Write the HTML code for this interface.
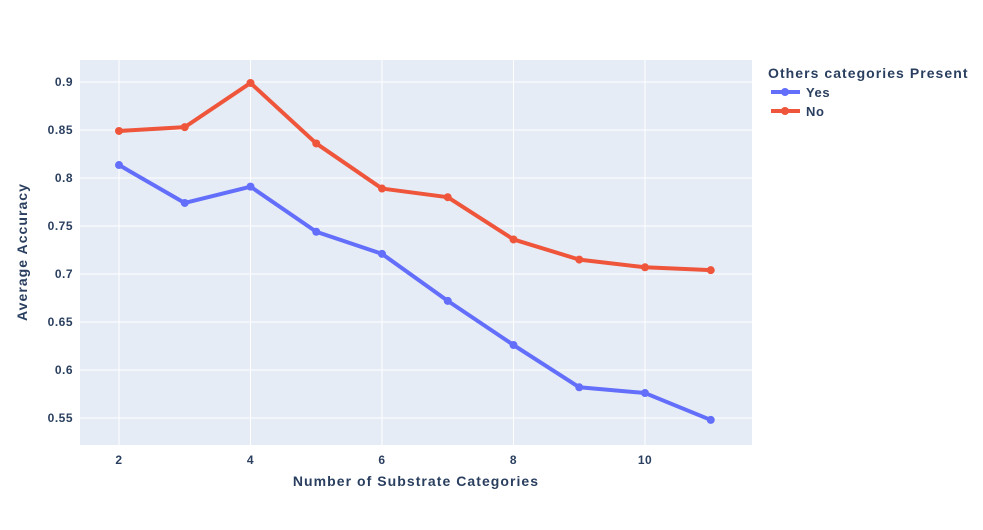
<!DOCTYPE html>
<html><head><meta charset="utf-8"><style>
body{margin:0;background:#fff;font-family:"Liberation Sans",Arial,sans-serif;}
svg text{font-family:"Liberation Sans",Arial,sans-serif;font-weight:bold;fill:#2a3f5f;}
</style></head><body>
<svg id="chart" width="983" height="525">
<rect x="80" y="60" width="672" height="385" fill="#e5ecf6"/>
<g id="grid"></g><g id="series"></g><g id="ticks"></g>
<text x="416" y="486" text-anchor="middle" font-size="14" letter-spacing="1.05">Number of Substrate Categories</text>
<text transform="translate(27,252) rotate(-90)" text-anchor="middle" font-size="14" letter-spacing="1.05">Average Accuracy</text>
<text x="768" y="78" font-size="14" letter-spacing="1.05">Others categories Present</text>
<g><line x1="771" y1="92" x2="800" y2="92" stroke="#636efa" stroke-width="4"/><circle cx="785" cy="92" r="4" fill="#636efa"/><text x="806" y="97" font-size="13" letter-spacing="0.6">Yes</text></g>
<g><line x1="771" y1="111" x2="800" y2="111" stroke="#ef553b" stroke-width="4"/><circle cx="785" cy="111" r="4" fill="#ef553b"/><text x="806" y="116" font-size="13" letter-spacing="0.6">No</text></g>
</svg>
<script>
const categories=[2,3,4,5,6,7,8,9,10,11];
const yesValues=[0.8135,0.774,0.791,0.744,0.721,0.672,0.626,0.582,0.576,0.548];
const noValues=[0.849,0.853,0.899,0.836,0.789,0.780,0.736,0.715,0.707,0.704];
const xTicks=[2,4,6,8,10];
const yTicks=[0.55,0.6,0.65,0.7,0.75,0.8,0.85,0.9];
const NS='http://www.w3.org/2000/svg';
function xs(v){return 119+(v-2)*65.75;}
function ys(v){return 82+(0.9-v)*960;}
function mk(t,a,p){const e=document.createElementNS(NS,t);for(const k in a)e.setAttribute(k,a[k]);p.appendChild(e);return e;}
const grid=document.getElementById('grid'),ticks=document.getElementById('ticks'),ser=document.getElementById('series');
xTicks.forEach(v=>{const l=mk('line',{x1:xs(v),x2:xs(v),y1:60,y2:445,stroke:'#fff','stroke-width':1},grid);


const t=mk('text',{x:xs(v),y:464,'text-anchor':'middle','font-size':12,'letter-spacing':0.5},ticks);t.textContent=v;

});
yTicks.forEach(v=>{const l=mk('line',{x1:80,x2:752,y1:ys(v),y2:ys(v),stroke:'#fff','stroke-width':1},grid);


const t=mk('text',{x:73,y:ys(v)+4,'text-anchor':'end','font-size':12,'letter-spacing':0.5},ticks);t.textContent=String(v);

});
function draw(vals,color,name){
const p=mk('polyline',{points:categories.map((c,i)=>xs(c)+','+ys(vals[i])).join(' '),fill:'none',stroke:color,'stroke-width':4,'stroke-linejoin':'round'},ser);


categories.forEach((c,i)=>{const m=mk('circle',{cx:xs(c),cy:ys(vals[i]),r:4,fill:color},ser);

});}
draw(yesValues,'#636efa','yes');
draw(noValues,'#ef553b','no');
</script></body></html>
